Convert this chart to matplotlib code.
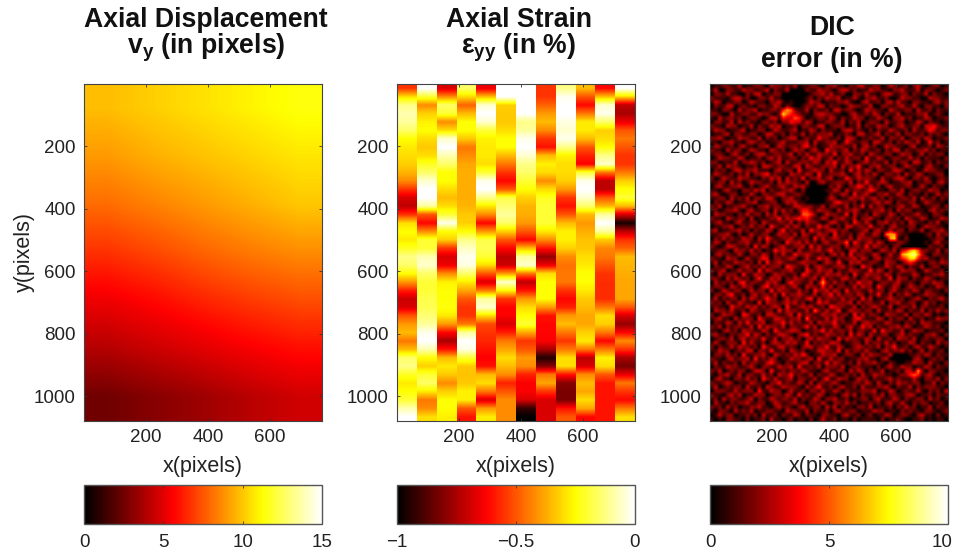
import numpy as np
import matplotlib
matplotlib.use('Agg')
import matplotlib.pyplot as plt
from matplotlib.colors import LinearSegmentedColormap
from matplotlib.transforms import ScaledTranslation

plt.rcParams['font.family'] = ['Liberation Sans', 'DejaVu Sans']
plt.rcParams['mathtext.fontset'] = 'custom'
plt.rcParams['mathtext.bf'] = 'Liberation Sans:bold'
plt.rcParams['mathtext.rm'] = 'Liberation Sans'

W, H = 955, 555
TEXT = '#222222'
XMAX, YMAX = 768, 1080

# axial displacement, coarse grid (rows top to bottom)
disp = [
    [9.8, 10.2, 10.6, 11.0, 11.4],
    [9.0, 9.5, 9.9, 10.3, 10.7],
    [8.0, 8.5, 9.0, 9.5, 10.0],
    [6.7, 7.2, 7.8, 8.3, 8.7],
    [5.3, 5.8, 6.4, 6.9, 7.3],
    [4.0, 4.5, 5.0, 5.5, 5.9],
    [2.5, 3.0, 3.5, 4.1, 4.6],
]

# axial strain, one list per vertical stripe, 40 samples top to bottom
strain = [
    [-.55,-.3,-.12,-.08,-.1,-.15,-.25,-.28,-.3,-.32,-.36,-.42,-.55,-.68,-.72,-.55,-.3,-.25,-.28,-.22,-.12,-.15,-.25,-.4,-.58,-.7,-.68,-.5,-.4,-.35,-.45,-.35,-.15,-.12,-.22,-.28,-.25,-.2,-.08,0],
    [0,-.2,-.42,-.32,-.27,-.25,-.3,-.33,-.3,-.22,-.15,-.05,0,0,-.1,-.5,-.62,-.42,-.2,-.2,-.08,-.05,-.15,-.2,-.2,-.18,-.17,-.14,-.1,-.02,0,-.08,-.25,-.32,-.2,-.15,-.28,-.45,-.42,-.3],
    [-.68,-.42,-.15,-.2,-.42,-.3,-.05,0,-.08,-.15,-.25,-.25,-.3,-.35,-.3,-.2,-.02,-.25,-.32,-.55,-.68,-.65,-.42,-.27,-.25,-.25,-.24,-.28,-.4,-.62,-.75,-.6,-.35,-.28,-.33,-.42,-.32,-.25,-.25,-.27],
    [-.15,-.3,-.48,-.35,-.25,-.25,-.33,-.45,-.42,-.38,-.37,-.37,-.37,-.37,-.36,-.33,-.32,-.25,-.12,-.06,-.02,-.03,-.15,-.28,-.38,-.5,-.55,-.55,-.45,-.1,0,-.03,-.2,-.33,-.34,-.33,-.27,-.27,-.5,-.6],
    [-.65,-.35,-.05,0,-.05,-.2,-.27,-.28,-.28,-.3,-.2,-.02,0,-.12,-.28,-.42,-.62,-.4,-.18,-.17,-.2,-.3,-.5,-.68,-.45,-.1,-.05,-.3,-.52,-.55,-.57,-.6,-.63,-.6,-.35,-.3,-.45,-.68,-.4,-.28],
    [0,0,-.32,-.33,-.33,-.3,-.25,-.25,-.35,-.45,-.55,-.62,-.5,-.18,-.14,-.1,-.15,-.32,-.5,-.62,-.72,-.7,-.4,-.05,-.25,-.55,-.62,-.63,-.68,-.58,-.45,-.38,-.3,-.35,-.42,-.58,-.5,-.42,-.42,-.42],
    [0,0,0,0,-.12,-.1,-.02,0,-.05,-.12,-.15,-.2,-.25,-.32,-.36,-.37,-.4,-.5,-.62,-.35,-.1,-.05,-.45,-.72,-.6,-.4,-.3,-.25,-.2,-.38,-.55,-.5,-.4,-.42,-.58,-.63,-.63,-.68,-.92,-1],
    [-.55,-.55,-.48,-.4,-.35,-.42,-.55,-.6,-.35,-.27,-.3,-.42,-.3,-.22,-.2,-.2,-.2,-.28,-.42,-.6,-.78,-.65,-.3,-.25,-.25,-.25,-.4,-.6,-.62,-.62,-.63,-.75,-.95,-.8,-.45,-.38,-.55,-.68,-.68,-.68],
    [-.12,-.02,0,0,-.03,-.05,-.02,-.12,-.27,-.3,-.3,-.32,-.4,-.55,-.6,-.5,-.35,-.27,-.27,-.32,-.42,-.46,-.45,-.45,-.55,-.62,-.58,-.4,-.35,-.45,-.55,-.45,-.3,-.3,-.6,-.8,-.82,-.82,-.6,-.5],
    [-.35,-.5,-.62,-.45,-.28,-.28,-.35,-.5,-.58,-.63,-.2,-.02,0,-.05,-.15,-.35,-.4,-.37,-.34,-.33,-.3,-.28,-.25,-.25,-.28,-.33,-.35,-.38,-.38,-.32,-.28,-.45,-.72,-.68,-.42,-.35,-.38,-.3,-.38,-.62],
    [-.62,-.35,-.05,-.02,-.15,-.32,-.3,-.25,-.12,-.05,-.45,-.72,-.72,-.5,-.35,-.1,0,-.1,-.33,-.43,-.45,-.5,-.55,-.56,-.56,-.56,-.45,-.3,-.32,-.45,-.62,-.45,-.27,-.3,-.5,-.6,-.6,-.6,-.6,-.6],
    [0,-.3,-.72,-.75,-.65,-.5,-.45,-.5,-.55,-.55,-.45,-.32,-.25,-.2,-.35,-.68,-.97,-.72,-.55,-.48,-.35,-.36,-.37,-.38,-.38,-.38,-.5,-.68,-.78,-.62,-.42,-.55,-.75,-.82,-.65,-.45,-.55,-.62,-.45,-.3],
]

# DIC error in %, one digit per cell, estimated by eye (60 columns, 84 rows)
dic_rows = [
    '0112211301 1221032212 1301122102 2311021331 1220132112 0231012201',
    '1300221132 2112302113 0000211322 1023312011 3221102231 1130221012',
    '0221311002 1330112200 0000012231 3112002213 1102331122 0211302110',
    '2111023312 0022131100 0000120213 2230113102 2311200132 2110032211',
    '1320112201 3211022310 1000132201 1122310023 1120231311 0221102312',
    '0211330121 1022113202 1001221330 2110132211 3002211231 1310221102',
    '1102210312 2301122146 5211302112 0331221013 2211032112 2031120211',
    '2210031122 1132210275 4321102332 2110023112 1320211301 1122301210',
    '1031221201 2210133143 3542011221 3202113220 1132102231 2011320112',
    '0221130312 1102212022 4331320112 2113021301 2210311220 1132021101',
    '2110322011 3021132301 1202211330 1222011302 1132201231 1220334211',
    '1322011230 1122013211 2301132021 1102331210 2021132112 0311243122',
    '0112302211 2201331120 2113021222 3011210331 1230211302 2112021210',
    '2231011322 1130212012 3301211422 1120332011 2113022130 1221320112',
    '1102231102 3212011231 1122303112 2301421122 0331120213 2130141201',
    '0321120231 1022301321 2213412011 3222113023 1201322110 2301120321',
    '2110312201 3211032120 1322023104 2212302132 1120213302 1122312011',
    '1221023112 0233112212 3021311322 1402231120 3211220132 2013021220',
    '0132211320 1120231311 2202142311 3021312204 1132012211 3120211102',
    '2201113022 3212012303 1122213203 2411320123 1211302122 0331120211',
    '1130322101 1203321221 1330321122 2303122410 2231122013 2110231102',
    '0212013312 2311102312 2041123220 3112041313 2022113320 1201322110',
    '1321120213 0223412110 3221320411 2223102312 1310221203 1132011220',
    '2013211322 1102132303 1214022312 3011421322 2103112331 0221310121',
    '1122031201 3221120313 2210300231 1222130214 1123201122 3011220231',
    '0231122310 2012311231 1323100000 2131022431 3120231112 2013102110',
    '1102311022 1323021122 3102000001 1320312212 4311022130 1221132201',
    '2310122011 3102212331 1221000000 2113204123 1022311320 2110201312',
    '1122031213 0221331022 3110100001 3201132231 2312021122 1303112021',
    '0211320112 2301122013 2311000001 1342212021 1231320211 2201321110',
    '2130112231 1022312201 1332221130 2211302140 3122011231 1320112202',
    '1201223102 3112203131 2024421322 1031223201 1223120312 2011023121',
    '0322110213 1220313022 1115542013 2211403112 0321132021 1231102210',
    '2110321220 3011122413 2343421132 0223113022 3110221203 2113201132',
    '1231102311 2203211221 3021322101 3311204213 1022312120 3211021301',
    '0112230121 3122042113 1320211423 1020331221 4112023111 2201322110',
    '2301122312 0211320241 2113042212 3312201123 0231131220 2113012231',
    '1122310201 3112201322 1303211322 0412120231 1320566211 0000120312',
    '0213121132 2031421122 3112204131 2321130322 2110167102 0000011220',
    '1320211223 1120312104 2231312023 1122504212 3132011221 0000102311',
    '2101332112 0413201231 1223041311 2220312214 1321202200 0000021120',
    '1122103221 3120114232 2031122312 4121033122 2013213034 6752211302',
    '0231211310 2213202131 1422321120 2313041221 1320131167 8963102211',
    '2110322013 1124302212 3201311423 1021223132 0231221245 7742311021',
    '1302113221 2030412321 1123222013 2141032311 2210322013 4311022132',
    '0211320123 1213122204 3211302321 1223121042 2011321320 2113012201',
    '2123011312 2041321122 3110421322 3021132211 4132021132 2201321120',
    '1031222041 1322013221 1204312213 2231204113 2221320211 1320112231',
    '2210313212 0241132302 1322123041 2113312022 1231140322 0211321011',
    '0312120341 2211323102 4221130262 1312021422 3012212311 2102213220',
    '1221032132 2013412231 2310322141 3022113132 2042113201 3212011321',
    '2013212201 3122041322 1131204223 1320412211 3122023112 1320221102',
    '0221341120 2312213041 2232113022 4131221320 2141130213 2011322110',
    '1302122031 3212422013 1221340312 2213122041 3011232120 1231021231',
    '2120311321 1040322123 2312011423 1122230312 2113022311 2201312011',
    '1211042213 2312123204 1123231120 4322113021 2321130122 1302211120',
    '0322131120 3211220413 2211305213 1240132212 2031121320 2113021312',
    '2013221043 1120332112 3041221132 2312204131 2210322113 0221320101',
    '1231103122 2042113321 2230512113 1322013421 1132021220 3112011322',
    '0211320314 1223012241 3121130322 2412113023 2211321102 1203221110',
    '2130212211 3041322130 2212413021 1320231142 3021122313 2011321201',
    '1102312032 2113204212 3320112241 3122130221 1404221130 1322011120',
    '2311021224 1320211332 1023412113 2212041320 3112201231 2110223102',
    '0122130231 2214113022 3120231322 1041322113 2031120322 1301211220',
    '1310222041 3112023213 2311402121 3320112203 1221312011 3202110312',
    '2021131322 1204211331 2102331224 1132012321 2130224112 0231132101',
    '1132201213 3022141120 3212011332 2140312213 1102312231 2013021120',
    '0221312041 1223103212 1324201132 2301221031 3221130000 1121320211',
    '2110231223 0412132011 3221230411 3122011223 1102300000 0231012120',
    '1302112031 2211342102 1123302214 1321120312 2311021001 1322031102',
    '0211322112 3102211322 3041121302 2213012211 1020231132 2011320211',
    '2130121220 1332041121 2213211023 1122031320 2113011203 3162022110',
    '1022311302 2113120322 4121130211 3201212031 1322110122 4541231011',
    '0231102213 1204213112 3022113024 1132201322 0211231211 1310221302',
    '2112320111 3211022412 1132030221 2310112213 2031021322 1220113021',
    '1301212203 1120321132 2210312411 2023112031 1122310211 3021222110',
    '0222113122 2041132201 3112022131 1320211122 2301132012 1131021203',
    '2110231301 1322012213 2041211320 1102313021 1213022112 3201120211',
    '1203122112 3021132122 1302113202 2311201122 0231113202 1122031201',
    '0311021223 1122013211 2311022131 0221312011 2120231131 0212201120',
    '2120312011 2231102312 1023112203 1302110221 3011120213 1201130211',
    '1022103121 3011221103 2211302112 0231122011 1322011021 2110221012',
    '0131220112 1203112021 1320211022 1102311201 2011320122 1023110201',
    '1010221102 0112031101 2011020131 1201102011 1102011210 0112010110',
]
dic = [[int(c) for c in row if c != ' '] for row in dic_rows]

ticks = [200, 400, 600]
yticks = [200, 400, 600, 800, 1000]
cbar_ticks = [[0, 5, 10, 15], [-1, -0.5, 0], [0, 5, 10]]
cbar_labels = [['0', '5', '10', '15'], ['\u22121', '\u22120.5', '0'], ['0', '5', '10']]
limits = [(0, 15), (-1, 0), (0, 10)]
lefts = [84, 397, 710]
titles = [
    ['Axial Displacement', r'v$_{\mathbf{y}}$ (in pixels)'],
    ['Axial Strain', '\u03b5$_{\\mathbf{yy}}$ (in %)'],
    ['DIC', 'error (in %)'],
]
title_y = [(27, 54), (27, 54), (35, 67)]

# same breakpoints as matlab's hot
hot = LinearSegmentedColormap.from_list(
    'mhot', [(0, 'black'), (0.375, 'red'), (0.75, 'yellow'), (1, 'white')], N=256)


def pixel_axes(x, y, w, h):
    return fig.add_axes([x / W, 1 - (y + h) / H, w / W, h / H])


fig = plt.figure(figsize=(W / 100, H / 100), dpi=100)

for i in range(3):
    ax = pixel_axes(lefts[i], 84, 238, 337)
    vmin, vmax = limits[i]
    if i == 0:
        im = ax.imshow(disp, cmap=hot, vmin=vmin, vmax=vmax, aspect='auto',
                       interpolation='bilinear', extent=(0, XMAX, YMAX, 0))
    elif i == 1:
        # stripes stay sharp sideways, only smooth along y
        step = XMAX / len(strain)
        for k, col in enumerate(strain):
            im = ax.imshow([[v] for v in col], cmap=hot, vmin=vmin, vmax=vmax, aspect='auto',
                           interpolation='bilinear',
                           extent=(k * step, (k + 1) * step, YMAX, 0))
    else:
        im = ax.imshow(dic, cmap=hot, vmin=vmin, vmax=vmax, aspect='auto',
                       interpolation='bilinear', extent=(0, XMAX, YMAX, 0))
    ax.set_xlim(0, XMAX)
    ax.set_ylim(YMAX, 0)
    ax.set_xticks(ticks)
    ax.set_yticks(yticks)
    ax.tick_params(direction='in', top=True, right=True, length=2, width=0.6,
                   labelsize=13.5, labelcolor=TEXT, pad=6, color='#333333')
    ax.set_xlabel('x(pixels)', fontsize=15.5, color=TEXT, labelpad=7)
    if i == 0:
        ax.set_ylabel('y(pixels)', fontsize=15.5, color=TEXT, labelpad=-1)
    for s in ax.spines.values():
        s.set_color('#444444')
        s.set_linewidth(0.8)

    xc = (lefts[i] + 122) / W
    for line, yp in zip(titles[i], title_y[i]):
        fig.text(xc, 1 - yp / H, line, ha='center', va='baseline', fontsize=19.2,
                 fontweight='bold', color='#111111')

    cax = pixel_axes(lefts[i], 485, 238, 39)
    cb = fig.colorbar(im, cax=cax, orientation='horizontal')
    cb.set_ticks(cbar_ticks[i])
    cb.set_ticklabels(cbar_labels[i])
    cb.ax.tick_params(direction='in', top=True, bottom=True, length=2, width=0.6,
                      labelsize=13.5, labelcolor=TEXT, pad=7, color='#333333')
    cb.outline.set_edgecolor('#555555')
    cb.outline.set_linewidth(1.0)
    if i == 2:
        # the last label would run off the page
        last = cb.ax.get_xticklabels()[-1]
        last.set_ha('right')
        last.set_transform(last.get_transform() + ScaledTranslation(4 / 100, 0, fig.dpi_scale_trans))

fig.savefig('out.png', dpi=100)
